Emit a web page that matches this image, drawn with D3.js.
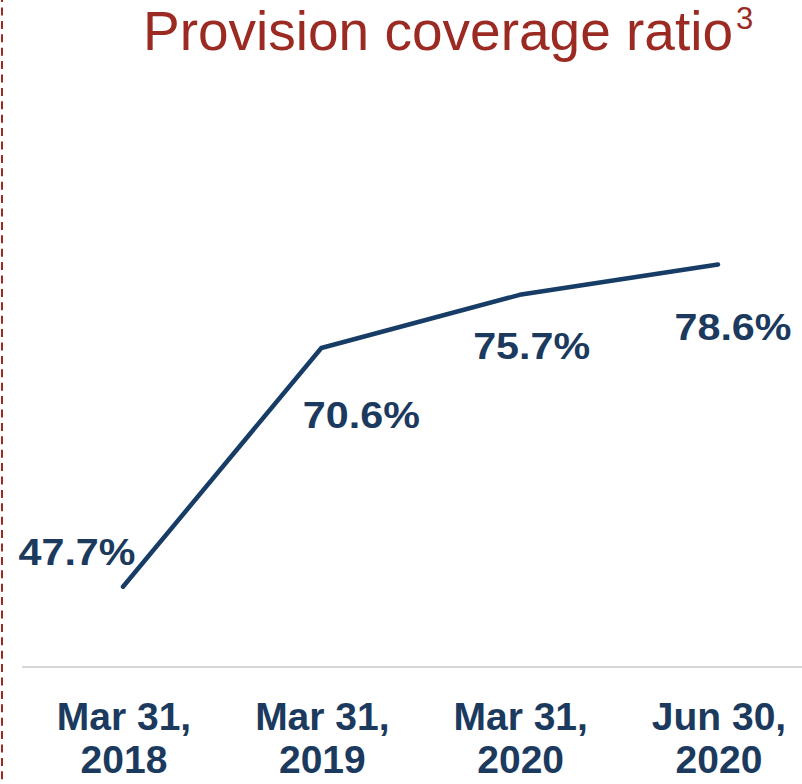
<!DOCTYPE html>
<html>
<head>
<meta charset="utf-8">
<script src="https://cdn.jsdelivr.net/npm/d3@7"></script>
<style>
  html, body { margin: 0; padding: 0; background: #fff; }
  svg { display: block; }
  text { font-family: "Liberation Sans", Arial, Helvetica, sans-serif; }
</style>
</head>
<body>
<svg id="chart" width="802" height="784"></svg>
<script>
// Provision coverage ratio by reporting date
const dateLines = [["Mar 31,", "2018"], ["Mar 31,", "2019"], ["Mar 31,", "2020"], ["Jun 30,", "2020"]];
const categories = ["Mar 31, 2018", "Mar 31, 2019", "Mar 31, 2020", "Jun 30, 2020"];
const coverage = [47.7, 70.6, 75.7, 78.6];
const valueLabels = ["47.7%", "70.6%", "75.7%", "78.6%"];

// label placement relative to each point (dx, dy of text baseline centre)
const labelOffsets = [[-46, -22], [40, 80], [12, 64], [15, 75]];

const navy = "#1b3a5e";
const lineColor = "#173d66";
const red = "#9b2a22";

const svg = d3.select("#chart");

const x = d3.scalePoint().domain(categories).range([123, 718]);
const y = d3.scaleLinear().domain([40, 80]).range([667, 250]);

// dashed divider on the left edge
svg.append("line")
  .attr("x1", 2).attr("x2", 2)
  .attr("y1", 0).attr("y2", 784)
  .attr("stroke", red)
  .attr("stroke-width", 2)
  .attr("stroke-dasharray", "8,5.4")
  .attr("stroke-dashoffset", 5.9);

// title
const title = svg.append("text")
  .attr("x", 143).attr("y", 50)
  .attr("fill", red)
  .attr("font-size", 55);
title.append("tspan").text("Provision coverage ratio");
title.append("tspan")
  .attr("font-size", 31)
  .attr("dx", 3)
  .attr("dy", -21)
  .text("3");

// baseline axis
const xAxis = d3.axisBottom(x).tickSize(0).tickFormat("");
const axisG = svg.append("g")
  .attr("transform", `translate(0,${y(40)})`)
  .call(xAxis);
axisG.select(".domain")
  .attr("d", "M22,0H802")
  .attr("stroke", "#d6d6d6")
  .attr("stroke-width", 2);

// category labels (two lines each)
const catG = svg.append("g");
categories.forEach((c, i) => {
  const t = catG.append("text")
    .attr("text-anchor", "middle")
    .attr("fill", navy)
    .attr("font-weight", "bold")
    .attr("font-size", 39);
  t.append("tspan").attr("x", x(c) + 1).attr("y", 730).text(dateLines[i][0]);
  t.append("tspan").attr("x", x(c) + 1).attr("y", 773).text(dateLines[i][1]);
});

// series line
const data = categories.map((c, i) => ({ c, v: coverage[i], label: valueLabels[i], off: labelOffsets[i] }));

svg.append("path")
  .datum(data)
  .attr("fill", "none")
  .attr("stroke", lineColor)
  .attr("stroke-width", 4.5)
  .attr("stroke-linecap", "round")
  .attr("stroke-linejoin", "round")
  .attr("d", d3.line().x(d => x(d.c)).y(d => y(d.v)));

// value labels
svg.append("g").selectAll("text")
  .data(data)
  .join("text")
  .attr("x", d => x(d.c) + d.off[0])
  .attr("y", d => y(d.v) + d.off[1])
  .attr("text-anchor", "middle")
  .attr("fill", navy)
  .attr("font-weight", "bold")
  .attr("font-size", 36.5)
  .attr("textLength", 117)
  .attr("lengthAdjust", "spacingAndGlyphs")
  .text(d => d.label);
</script>
</body>
</html>
